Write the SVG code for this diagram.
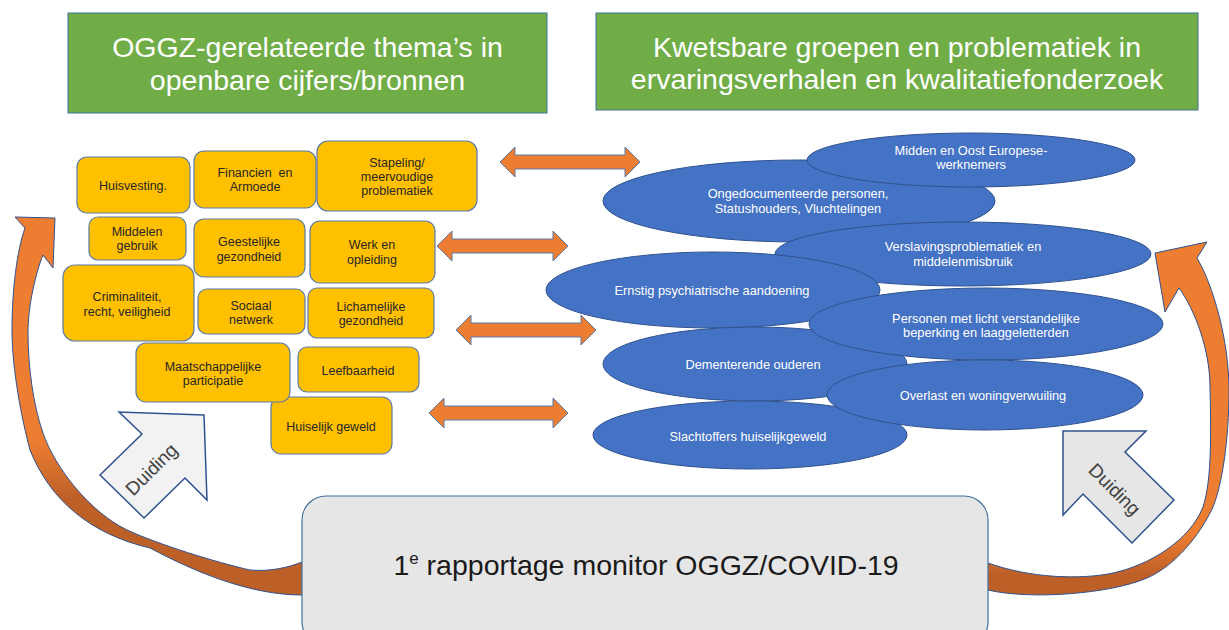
<svg xmlns="http://www.w3.org/2000/svg" width="1229" height="630" viewBox="0 0 1229 630">
<style>
.hdr{fill:#70AD47;stroke:#41719C;stroke-width:1}
.hdrt{font-family:"Liberation Sans",Arial,sans-serif;font-size:28.5px;fill:#fff;text-anchor:middle}
.yb{fill:#FFC000;stroke:#5B7BA8;stroke-width:1.2}
.yt{font-family:"Liberation Sans",Arial,sans-serif;font-size:12.5px;fill:#262626;text-anchor:middle}
.el{fill:#4472C4;stroke:#2F528F;stroke-width:1}
.et{font-family:"Liberation Sans",Arial,sans-serif;font-size:12.8px;fill:#fff;text-anchor:middle}
.dbl{fill:#ED7D31;stroke:#5B7BA8;stroke-width:1}
.dui{stroke:#2F528F;stroke-width:1.5}
.duit{font-family:"Liberation Sans",Arial,sans-serif;font-size:19px;fill:#404040;text-anchor:middle}
</style>
<defs>
<linearGradient id="gl" gradientUnits="userSpaceOnUse" x1="0" y1="440" x2="0" y2="500">
<stop offset="0" stop-color="#ED7D31"/><stop offset="1" stop-color="#BC6028"/>
</linearGradient>
<linearGradient id="gr" gradientUnits="userSpaceOnUse" x1="0" y1="535" x2="0" y2="575">
<stop offset="0" stop-color="#ED7D31"/><stop offset="1" stop-color="#BC6028"/>
</linearGradient>
</defs>

<g id="connectors">
<path id="curve-left" d="M320,595 L302,595 C250,595 195,572 150,548 C90,534 50,500 30,450 C22,420 12,370 12,330 C12,290 17,250 25,228 L15,217 L55,218 L53,268 L43,255 C36,272 28,305 28,333 C28,365 33,405 43,433 C55,468 90,512 127,530 C160,545 215,562 250,570 C270,572 290,567 302,562 L320,562 Z" fill="url(#gl)" stroke="#2F528F" stroke-width="1"/>
<path id="curve-right" d="M970,590 L988,590 C1030,600 1110,594 1147,578 C1175,566 1200,535 1213,507 C1222,485 1229,440 1229,390 C1229,340 1213,285 1197,258 L1207,242 L1155,253 L1165,312 L1179,288 C1195,310 1210,350 1210,387 C1211,430 1212,480 1203,507 C1190,540 1150,565 1113,573 C1080,580 1030,578 988,563 L970,563 Z" fill="url(#gr)" stroke="#2F528F" stroke-width="1"/>
<path class="dbl" d="M500,162 L515,147 L515,155 L625,155 L625,147 L640,162 L625,177 L625,169 L515,169 L515,177 Z"/>
<path class="dbl" d="M437,246 L452,231 L452,239 L553,239 L553,231 L568,246 L553,261 L553,253 L452,253 L452,261 Z"/>
<path class="dbl" d="M456,330 L471,315 L471,323 L581,323 L581,315 L596,330 L581,345 L581,337 L471,337 L471,345 Z"/>
<path class="dbl" d="M429,413 L444,398 L444,406 L553,406 L553,398 L568,413 L553,428 L553,420 L444,420 L444,428 Z"/>
</g>

<g id="header-left">
<rect class="hdr" x="68" y="13" width="479" height="100"/>
<text class="hdrt" x="307.5" y="57">OGGZ-gerelateerde thema’s in</text>
<text class="hdrt" x="307.5" y="90">openbare cijfers/bronnen</text>
</g>
<g id="header-right">
<rect class="hdr" x="596" y="13" width="602" height="97"/>
<text class="hdrt" x="897" y="57">Kwetsbare groepen en problematiek in</text>
<text class="hdrt" x="897" y="89">ervaringsverhalen en kwalitatiefonderzoek</text>
</g>

<g id="huisvesting"><rect class="yb" x="77" y="157" width="113" height="56" rx="10"/><text class="yt" x="133" y="189.5">Huisvesting.</text></g>
<g id="financien"><rect class="yb" x="194" y="151" width="122" height="57" rx="10"/><text class="yt" x="255" y="176.5" style="white-space:pre" xml:space="preserve">Financien  en</text><text class="yt" x="255" y="190.5">Armoede</text></g>
<g id="stapeling"><rect class="yb" x="317" y="141" width="160" height="70" rx="11"/><text class="yt" x="397" y="166.5">Stapeling/</text><text class="yt" x="397" y="180.5">meervoudige</text><text class="yt" x="397" y="194.5">problematiek</text></g>
<g id="middelen"><rect class="yb" x="89" y="217" width="97" height="43" rx="9"/><text class="yt" x="137" y="235.5">Middelen</text><text class="yt" x="137" y="249.5">gebruik</text></g>
<g id="geestelijke"><rect class="yb" x="194" y="219" width="111" height="58" rx="10"/><text class="yt" x="249" y="245.5">Geestelijke</text><text class="yt" x="249" y="260.5">gezondheid</text></g>
<g id="werk"><rect class="yb" x="310" y="221" width="125" height="62" rx="10"/><text class="yt" x="372" y="248.5">Werk en</text><text class="yt" x="372" y="263.5">opleiding</text></g>
<g id="criminaliteit"><rect class="yb" x="63" y="265" width="131" height="76" rx="12"/><text class="yt" x="127" y="300.5">Criminaliteit,</text><text class="yt" x="127" y="315.5">recht, veiligheid</text></g>
<g id="sociaal"><rect class="yb" x="198" y="289" width="107" height="45" rx="9"/><text class="yt" x="251" y="309.5">Sociaal</text><text class="yt" x="251" y="323.5">netwerk</text></g>
<g id="lichamelijke"><rect class="yb" x="308" y="288" width="126" height="50" rx="9"/><text class="yt" x="371" y="310.5">Lichamelijke</text><text class="yt" x="371" y="324.5">gezondheid</text></g>
<g id="huiselijk"><rect class="yb" x="271" y="397" width="121" height="57" rx="10"/><text class="yt" x="331" y="430.5">Huiselijk geweld</text></g>
<g id="maatschappelijke"><rect class="yb" x="136" y="343" width="154" height="59" rx="10"/><text class="yt" x="213" y="370.5">Maatschappelijke</text><text class="yt" x="213" y="384.5">participatie</text></g>
<g id="leefbaarheid"><rect class="yb" x="298" y="347" width="121" height="45" rx="9"/><text class="yt" x="358" y="374.5">Leefbaarheid</text></g>

<g id="ongedocumenteerde"><ellipse class="el" cx="799" cy="201" rx="196" ry="41"/><text class="et" x="798" y="197.5">Ongedocumenteerde personen,</text><text class="et" x="798" y="212.5">Statushouders, Vluchtelingen</text></g>
<g id="midden-oost"><ellipse class="el" cx="971" cy="160" rx="164" ry="27"/><text class="et" x="971" y="154.5">Midden en Oost Europese-</text><text class="et" x="971" y="168.5">werknemers</text></g>
<g id="verslaving"><ellipse class="el" cx="963" cy="254" rx="188" ry="32"/><text class="et" x="963" y="250.5">Verslavingsproblematiek en</text><text class="et" x="963" y="265.5">middelenmisbruik</text></g>
<g id="ernstig"><ellipse class="el" cx="713" cy="290" rx="167" ry="38"/><text class="et" x="712" y="294.5">Ernstig psychiatrische aandoening</text></g>
<g id="dementerende"><ellipse class="el" cx="755" cy="364" rx="152" ry="37"/><text class="et" x="753" y="368.5">Dementerende ouderen</text></g>
<g id="personen"><ellipse class="el" cx="986" cy="324" rx="177" ry="36"/><text class="et" x="986" y="322.5">Personen met licht verstandelijke</text><text class="et" x="986" y="336.5">beperking en laaggeletterden</text></g>
<g id="slachtoffers"><ellipse class="el" cx="750" cy="435" rx="157" ry="34"/><text class="et" x="748" y="440.5">Slachtoffers huiselijkgeweld</text></g>
<g id="overlast"><ellipse class="el" cx="985" cy="395" rx="158" ry="35"/><text class="et" x="983" y="399.5">Overlast en woningverwuiling</text></g>

<g id="duiding-left">
<polygon class="dui" fill="#F2F2F2" points="204,415 207,500 185,478 144,518 100,475 142,434 119,412"/>
<text class="duit" x="0" y="0" transform="translate(156,474) rotate(-45)">Duiding</text>
</g>
<g id="duiding-right">
<polygon class="dui" fill="#E7E6E6" points="1063,431 1146,431 1125,452 1174,500 1132,543 1083,494 1063,515"/>
<text class="duit" x="0" y="0" transform="translate(1110,494) rotate(45)">Duiding</text>
</g>

<g id="rapportage">
<rect x="302" y="496" width="686" height="150" rx="24" fill="#E7E6E6" stroke="#41719C" stroke-width="1.2"/>
<text font-family="'Liberation Sans',Arial,sans-serif" font-size="28.5" fill="#1a1a1a" text-anchor="middle" x="646" y="575">1<tspan font-size="17" dy="-11">e</tspan><tspan dy="11"> rapportage monitor OGGZ/COVID-19</tspan></text>
</g>
</svg>
